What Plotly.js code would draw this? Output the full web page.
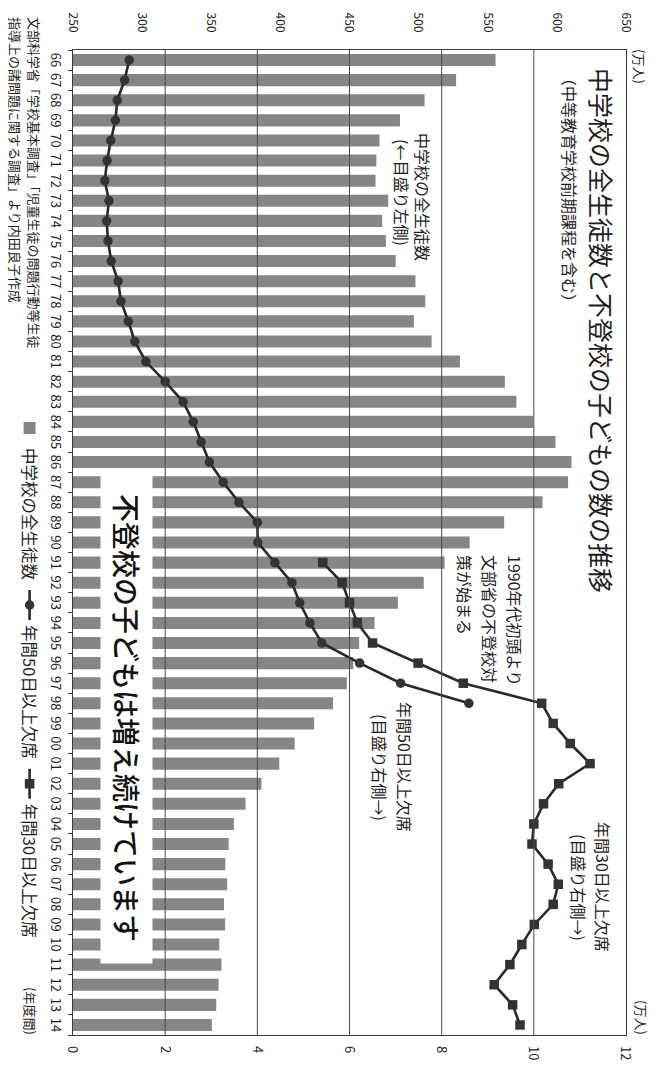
<!DOCTYPE html>
<html><head><meta charset="utf-8">
<script src="https://cdn.plot.ly/plotly-3.0.1.min.js"></script>
<style>
html,body{margin:0;padding:0;width:659px;height:1068px;overflow:hidden;background:#fff;}
#wrap{position:absolute;left:0;top:0;width:659px;height:1068px;overflow:hidden;background:#fff;}
#chart{position:absolute;left:0;top:0;width:1068px;height:659px;transform-origin:0 0;transform:translate(659px,0) rotate(90deg);}
</style></head><body><div id="wrap"><div id="chart"></div></div>
<script>
// ---- data (万人) ----
const years = ['66','67','68','69','70','71','72','73','74','75','76','77','78','79','80','81','82','83','84','85','86','87','88','89','90','91','92','93','94','95','96','97','98','99','00','01','02','03','04','05','06','07','08','09','10','11','12','13','14'];
// 中学校の全生徒数 (left axis)
const students = [555.6,527.1,504.3,486.5,471.7,469.4,468.8,478.0,473.6,476.3,483.4,497.7,504.8,496.6,509.4,529.9,562.4,570.7,582.9,599.0,610.6,608.1,589.6,561.9,536.9,518.8,503.7,485.0,468.1,457.0,452.7,448.1,438.1,424.4,410.4,399.2,386.3,374.8,366.4,362.6,360.2,361.5,359.2,360.0,355.8,357.4,355.3,353.6,350.4];
// 年間50日以上欠席 (right axis), 1966-1998
const years50 = ['66','67','68','69','70','71','72','73','74','75','76','77','78','79','80','81','82','83','84','85','86','87','88','89','90','91','92','93','94','95','96','97','98'];
const absent50 = [1.22,1.12,0.96,0.92,0.82,0.74,0.69,0.78,0.73,0.76,0.83,0.98,1.04,1.20,1.34,1.58,2.00,2.39,2.61,2.78,2.96,3.26,3.60,4.00,4.01,4.38,4.75,4.92,5.14,5.40,6.22,7.11,8.59];
// 年間30日以上欠席 (right axis), 1991-2014
const years30 = ['91','92','93','94','95','96','97','98','99','00','01','02','03','04','05','06','07','08','09','10','11','12','13','14'];
const absent30 = [5.42,5.84,6.00,6.17,6.50,7.49,8.47,10.17,10.42,10.79,11.22,10.54,10.21,10.00,9.96,10.31,10.53,10.42,10.01,9.74,9.48,9.14,9.54,9.70];
const leftTicks = [250,300,350,400,450,500,550,600,650];
const rightTicks = [0,2,4,6,8,10,12];
const gridVals = [2,4,6,8,10];

// ---- layout helpers (unrotated chart 1068x659) ----
const W=1068,H=659,M={l:50,r:33,t:33,b:69};
const PW=W-M.l-M.r, PH=H-M.t-M.b;
const px = x => (x-M.l)/PW, py = y => (H-M.b-y)/PH;
const FONT = '"Noto Sans CJK JP", "Noto Sans", sans-serif';
const INK = '#1e1e1e';
function ann(text, x, y, size, o){
  return Object.assign({text:text, xref:'paper', yref:'paper', x:px(x), y:py(y),
    xanchor:'left', yanchor:'middle', showarrow:false, font:{family:FONT,size:size,color:INK}}, o||{});
}

const traces = [
  {type:'bar', name:'中学校の全生徒数', x:years, y:students, yaxis:'y', width:0.6,
   marker:{color:'#868686', line:{width:0}}, hoverinfo:'skip'},
  {type:'scatter', mode:'lines+markers', name:'年間50日以上欠席', x:years50, y:absent50, yaxis:'y2',
   line:{color:'#2a2a2a', width:2.6}, marker:{symbol:'circle', size:9.5, color:'#333'}},
  {type:'scatter', mode:'lines+markers', name:'年間30日以上欠席', x:years30, y:absent30, yaxis:'y2',
   line:{color:'#2a2a2a', width:2.6}, marker:{symbol:'square', size:9.5, color:'#333'}}
];

const axLine = '#3a3a3a';
const layout = {
  width:W, height:H, margin:M, paper_bgcolor:'#fff', plot_bgcolor:'#fff',
  font:{family:FONT, color:INK},
  title:{text:'中学校の全生徒数と不登校の子どもの数の推移', xref:'paper', x:px(68), xanchor:'left',
         yref:'container', y:1-59/H, yanchor:'middle', font:{family:FONT,size:25,color:INK}},
  showlegend:true,
  legend:{orientation:'h', x:px(408), y:py(634), xanchor:'left', yanchor:'middle',
          font:{family:FONT,size:16.5,color:INK}, bgcolor:'rgba(0,0,0,0)', traceorder:'normal'},
  xaxis:{type:'category', range:[-0.5,48.5], tickmode:'linear', tick0:0, dtick:1, tickson:'boundaries',
         ticks:'outside', ticklen:4, tickcolor:axLine, tickangle:0, ticklabelstandoff:5,
         showline:true, linecolor:axLine, linewidth:1, mirror:true, showgrid:false,
         tickfont:{family:FONT,size:13,color:INK}},
  yaxis:{range:[250,650], tickmode:'array', tickvals:leftTicks, ticks:'', showline:true, linecolor:axLine,
         mirror:true, showgrid:false, zeroline:false, ticklabelstandoff:14,
         tickfont:{family:FONT,size:12,color:INK}},
  yaxis2:{overlaying:'y', side:'right', range:[0,12], tickmode:'array', tickvals:rightTicks, ticks:'',
          showgrid:false, zeroline:false, showline:false, ticklabelstandoff:10,
          tickfont:{family:FONT,size:13,color:INK}},
  yaxis3:{overlaying:'y', side:'left', range:[0,12], tickmode:'array', tickvals:rightTicks, ticks:'outside',
          ticklen:4, tickcolor:axLine, showticklabels:false, showgrid:false, zeroline:false, showline:false},
  yaxis4:{overlaying:'y', side:'right', range:[250,650], tickmode:'array', tickvals:leftTicks, ticks:'outside',
          ticklen:4, tickcolor:axLine, showticklabels:false, showgrid:false, zeroline:false, showline:false},
  shapes: gridVals.map(v => ({type:'line', xref:'paper', x0:0, x1:1, yref:'y2', y0:v, y1:v,
          line:{color:'#4a4a4a', width:1}, layer:'above'})),
  annotations:[
    ann('（中等教育学校前期課程を含む）', 68, 89, 16),
    ann('中学校の全生徒数', 197, 237, 16, {xanchor:'center'}),
    ann('(←目盛り左側)', 192, 259, 16, {xanchor:'center'}),
    ann('1990年代初頭より', 553, 145, 16),
    ann('文部省の不登校対', 553, 170, 16),
    ann('策が始まる', 553, 195, 16),
    ann('年間50日以上欠席', 700, 256, 16),
    ann('(目盛り右側→)', 712, 281, 16),
    ann('年間30日以上欠席', 820, 56, 16),
    ann('(目盛り右側→)', 832, 80, 16),
    ann('不登校の子どもは増え続けています', 718, 536.5, 28,
        {xanchor:'center', width:490, height:51, bgcolor:'#fff', borderpad:0,
         font:{family:FONT,size:28,color:'#111',weight:500}}),
    ann('(万人)', 47, 19, 13),
    ann('(万人)', 998, 17, 13),
    ann('(年度間)', 985, 633, 13),
    ann('文部科学省「学校基本調査」「児童生徒の問題行動等生徒', 15, 629, 13),
    ann('指導上の諸問題に関する調査」より内田良子作成', 15, 648, 13)
  ]
};
Plotly.newPlot('chart', traces, layout, {staticPlot:true, displayModeBar:false});
</script></body></html>
